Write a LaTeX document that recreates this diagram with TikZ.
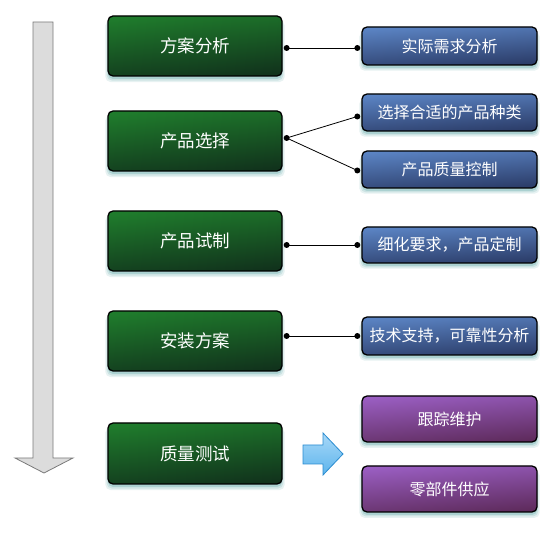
\documentclass[tikz,border=0pt]{standalone}
\usepackage{fontspec}
\setmainfont{Noto Sans CJK SC}
\usetikzlibrary{shadows,calc}
\definecolor{gTop}{HTML}{1F7B2C}
\definecolor{gBot}{HTML}{11331C}
\definecolor{bTop}{HTML}{5B84C4}
\definecolor{bBot}{HTML}{2B3C68}
\definecolor{pTop}{HTML}{9A5EC2}
\definecolor{pBot}{HTML}{5E2B5C}
\definecolor{shadowc}{HTML}{5FA8A8}
\definecolor{arrowgray}{HTML}{DCDCDC}
\definecolor{arrowedge}{HTML}{7A7A7A}
\definecolor{skyTop}{HTML}{A8D8F8}
\definecolor{skyBot}{HTML}{5CB4EC}
\definecolor{skyEdge}{HTML}{2A8CD0}
\tikzset{
  glow/.style={
    general shadow={shadow xshift=0pt, shadow yshift=-5pt, shadow scale=1.03, fill=shadowc, opacity=0.15},
    general shadow={shadow xshift=0pt, shadow yshift=-4pt, shadow scale=1.015, fill=shadowc, opacity=0.2},
    general shadow={shadow xshift=0pt, shadow yshift=-3pt, fill=shadowc, opacity=0.3}},
  boxbase/.style={draw=black, line width=1.3pt, rounded corners=5pt, text=white, glow, inner sep=0pt},
  greenbox/.style={boxbase, minimum width=174pt, minimum height=60pt,
    top color=gTop, bottom color=gBot, shading angle=6, font=\fontsize{17.5}{19}\selectfont},
  bluebox/.style={boxbase, minimum width=175pt, minimum height=37pt,
    top color=bTop, bottom color=bBot, shading angle=4, font=\fontsize{16}{18}\selectfont},
  purplebox/.style={boxbase, minimum width=175pt, minimum height=46pt,
    top color=pTop, bottom color=pBot, shading angle=5, font=\fontsize{16}{18}\selectfont},
  link/.style={line width=0.8pt, black},
  dotend/.style={circle, fill=black, inner sep=0pt, minimum size=6pt},
}
\begin{document}
\begin{tikzpicture}[x=1pt,y=-1pt]
\useasboundingbox (0,0) rectangle (558,537);
% big gray arrow
\draw[draw=arrowedge, fill=arrowgray, line width=0.8pt, line join=miter]
  (33,22) -- (53,22) -- (53,458) -- (73,458) -- (44,473) -- (15,458) -- (33,458) -- cycle;
% green boxes
\node[greenbox] (g1) at (195,46) {方案分析};
\node[greenbox] (g2) at (195,141) {产品选择};
\node[greenbox] (g3) at (195,241) {产品试制};
\node[greenbox] (g4) at (195,341) {安装方案};
\node[greenbox, minimum height=61pt] (g5) at (195,453.5) {质量测试};
% blue boxes
\node[bluebox, minimum height=38pt] (b1) at (449.5,46) {实际需求分析};
\node[bluebox] (b2) at (449.5,112.5) {选择合适的产品种类};
\node[bluebox] (b3) at (449.5,169.5) {产品质量控制};
\node[bluebox, minimum height=36pt] (b4) at (449.5,245) {细化要求，产品定制};
\node[bluebox, minimum height=38pt] (b5) at (449.5,336) {技术支持，可靠性分析};
% purple boxes
\node[purplebox] (p1) at (449.5,419) {跟踪维护};
\node[purplebox] (p2) at (449.5,489) {零部件供应};
% connectors
\coordinate (c1a) at ($(g1.east |- b1.west)+(4,2)$);
\coordinate (c1b) at ($(b1.west)+(-4,2)$);
\draw[link] (c1a) -- (c1b);
\node[dotend] at (c1a) {}; \node[dotend] at (c1b) {};
\coordinate (c2a) at ($(g2.east)+(4,-3)$);
\coordinate (c2b) at ($(b2.west)+(-4,4)$);
\coordinate (c2c) at ($(b3.west)+(-4,1)$);
\draw[link] (c2b) -- (c2a) -- (c2c);
\node[dotend] at (c2a) {}; \node[dotend] at (c2b) {}; \node[dotend] at (c2c) {};
\coordinate (c3a) at ($(g3.east |- b4.west)+(4,0)$);
\coordinate (c3b) at ($(b4.west)+(-4,0)$);
\draw[link] (c3a) -- (c3b);
\node[dotend] at (c3a) {}; \node[dotend] at (c3b) {};
\coordinate (c4a) at ($(g4.east |- b5.west)+(4,0)$);
\coordinate (c4b) at ($(b5.west)+(-4,0)$);
\draw[link] (c4a) -- (c4b);
\node[dotend] at (c4a) {}; \node[dotend] at (c4b) {};
% blue arrow
\draw[draw=skyEdge, top color=skyTop, bottom color=skyBot, shading angle=0, line width=0.8pt, line join=miter]
  (303,445) -- (323,445) -- (323,433) -- (343,454) -- (323,475) -- (323,464) -- (303,464) -- cycle;
\end{tikzpicture}
\end{document}
